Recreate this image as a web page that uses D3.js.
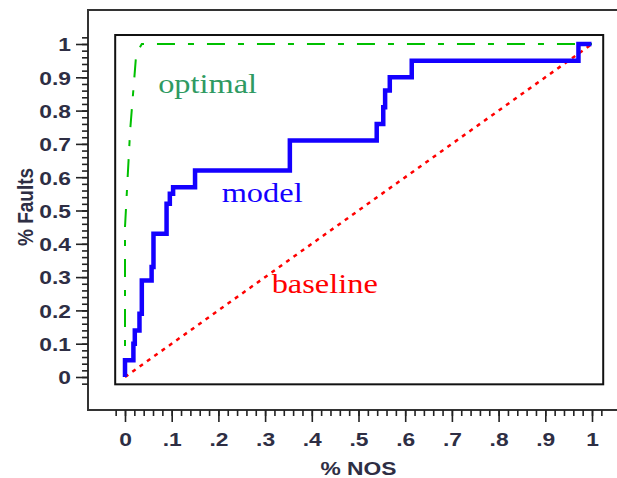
<!DOCTYPE html>
<html>
<head>
<meta charset="utf-8">
<script src="https://cdn.jsdelivr.net/npm/d3@7"></script>
<style>
	body { margin: 0; background: #fff; }
	svg { display: block; }
	.lbl { font-family: 'Liberation Sans', Arial, sans-serif; font-weight: bold; font-size: 19px; fill: #2e2e44; }
	.note { font-family: 'Liberation Serif', 'Times New Roman', serif; font-size: 27px; }
</style>
</head>
<body>
<div id="chart"></div>
<script>
	// step curve of the model (x = % NOS, y = % faults found)
	var modelX = [0, 0, 0.018, 0.021, 0.031, 0.036, 0.057, 0.061, 0.089, 0.096, 0.103, 0.15, 0.353, 0.539, 0.553, 0.557, 0.567, 0.614, 0.971, 0.999];
	var modelY = [0, 0.05, 0.10, 0.14, 0.19, 0.29, 0.33, 0.43, 0.52, 0.55, 0.57, 0.62, 0.71, 0.76, 0.81, 0.86, 0.90, 0.95, 1.0, 1.0];

	var optimalX = [0, 0, 0.011, 0.024, 0.036, 1];
	var optimalY = [0, 0.45, 0.74, 0.97, 1, 1];

	var baselineX = [0, 1];
	var baselineY = [0, 1];

	var xTicks = [0, 0.1, 0.2, 0.3, 0.4, 0.5, 0.6, 0.7, 0.8, 0.9, 1];
	var xTickLabels = ['0', '.1', '.2', '.3', '.4', '.5', '.6', '.7', '.8', '.9', '1'];
	var yTicks = [0, 0.1, 0.2, 0.3, 0.4, 0.5, 0.6, 0.7, 0.8, 0.9, 1];
	var yTickLabels = ['0', '0.1', '0.2', '0.3', '0.4', '0.5', '0.6', '0.7', '0.8', '0.9', '1'];

	var labelNames = ['optimal', 'model', 'baseline'];
	var labelX = [0.071, 0.207, 0.314];
	var labelY = [0.853, 0.525, 0.252];

	var width = 617, height = 478;
	var frame = {left: 88, top: 10, bottom: 410};

	var svg = d3.select('#chart')
		.append('svg')
		.attr('width', width)
		.attr('height', height);

	var x = d3.scaleLinear().domain([0, 1]).range([125, 592]);
	var y = d3.scaleLinear().domain([0, 1]).range([377, 44]);

	// outer frame (right side runs off the picture)
	svg.append('path')
		.attr('d', 'M' + (width + 5) + ',' + frame.top + 'H' + frame.left + 'V' + frame.bottom + 'H' + (width + 5))
		.attr('fill', 'none')
		.attr('stroke', '#333')
		.attr('stroke-width', 2);

	// inner plot box
	svg.append('rect')
		.attr('x', x(-0.021))
		.attr('y', y(1.027))
		.attr('width', x(1.024) - x(-0.021))
		.attr('height', y(-0.022) - y(1.027))
		.attr('fill', 'none')
		.attr('stroke', '#111')
		.attr('stroke-width', 2);

	var minor = d3.range(-0.02, 1.021, 0.02);

	// y axis
	var yMinor = svg.append('g')
		.attr('transform', 'translate(' + frame.left + ',0)')
		.call(d3.axisLeft(y).tickValues(minor).tickSize(6).tickFormat(''));
	var yAxis = svg.append('g')
		.attr('transform', 'translate(' + frame.left + ',0)')
		.call(d3.axisLeft(y).tickValues(yTicks).tickSize(12).tickFormat(function (d, i) {
			return yTickLabels[i];
		}));
	yAxis.selectAll('text')
		.attr('class', 'lbl')
		.attr('x', null)
		.attr('dy', '0.36em')
		.attr('transform', 'translate(-17,0) scale(1.2,1)');

	// x axis
	var xMinor = svg.append('g')
		.attr('transform', 'translate(0,' + frame.bottom + ')')
		.call(d3.axisBottom(x).tickValues(minor).tickSize(6).tickFormat(''));
	var xAxis = svg.append('g')
		.attr('transform', 'translate(0,' + frame.bottom + ')')
		.call(d3.axisBottom(x).tickValues(xTicks).tickSize(12).tickFormat(function (d, i) {
			return xTickLabels[i];
		}));
	xAxis.selectAll('text')
		.attr('class', 'lbl')
		.attr('y', null)
		.attr('dy', '0.71em')
		.attr('transform', 'translate(0,23) scale(1.2,1)');

	[yMinor, yAxis, xMinor, xAxis].forEach(function (g) {
		g.select('.domain').remove();
		g.selectAll('.tick line')
			.attr('stroke', '#222')
			.attr('stroke-width', 1.6);
	});

	// axis titles
	svg.append('text')
		.attr('class', 'lbl')
		.attr('text-anchor', 'middle')
		.attr('transform', 'translate(' + x(0.5) + ',475) scale(1.2,1)')
		.text('% NOS');
	svg.append('text')
		.attr('class', 'lbl')
		.attr('text-anchor', 'middle')
		.attr('transform', 'translate(33,207) scale(1.2,1) rotate(-90)')
		.text('% Faults');

	function points(xs, ys) {
		return xs.map(function (v, i) {
			return {x: v, y: ys[i]};
		});
	}

	var line = d3.line()
		.x(function (d) { return x(d.x); })
		.y(function (d) { return y(d.y); });

	// baseline
	svg.append('path')
		.datum(points(baselineX, baselineY))
		.attr('fill', 'none')
		.attr('stroke', '#ff0000')
		.attr('stroke-width', 2.5)
		.attr('stroke-dasharray', '4,5')
		.attr('d', line);

	// optimal
	svg.append('path')
		.datum(points(optimalX, optimalY))
		.attr('fill', 'none')
		.attr('stroke', '#00c000')
		.attr('stroke-width', 2)
		.attr('stroke-dasharray', '18,13,6,13')
		.attr('d', line);

	// model
	svg.append('path')
		.datum(points(modelX, modelY))
		.attr('fill', 'none')
		.attr('stroke', '#1400ff')
		.attr('stroke-width', 4.5)
		.attr('stroke-linejoin', 'miter')
		.attr('d', line.curve(d3.curveStepAfter));

	var labelColors = ['#2f9a62', '#1400ff', '#ff0000'];
	svg.selectAll('.note')
		.data(labelNames)
		.enter()
		.append('text')
		.attr('class', 'note')
		.attr('fill', function (d, i) { return labelColors[i]; })
		.attr('transform', function (d, i) {
			return 'translate(' + x(labelX[i]) + ',' + y(labelY[i]) + ') scale(1.2,1)';
		})
		.text(function (d) { return d; });
</script>
</body>
</html>
